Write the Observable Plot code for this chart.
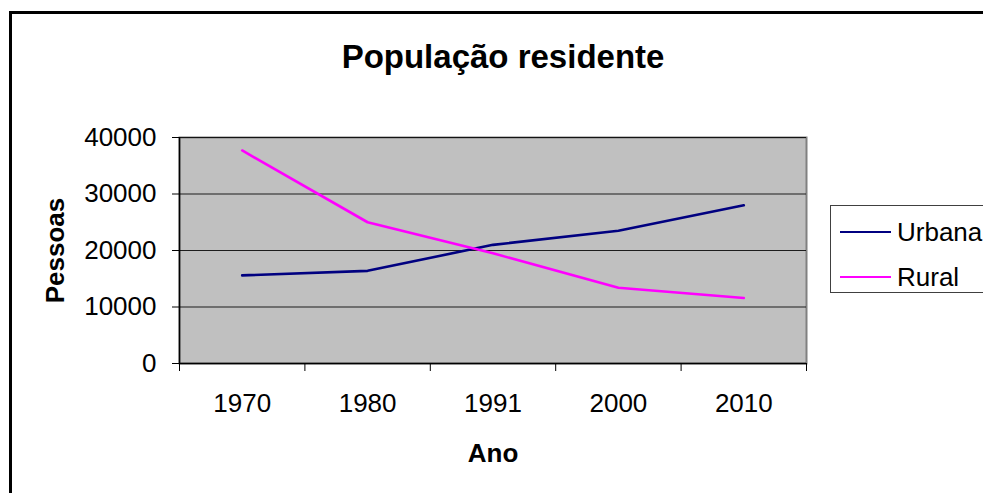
<!DOCTYPE html>
<html>
<head>
<meta charset="utf-8">
<script src="https://cdn.jsdelivr.net/npm/d3@7"></script>
<script src="https://cdn.jsdelivr.net/npm/@observablehq/plot@0.6"></script>
<style>
  html, body { margin: 0; padding: 0; background: #fff; overflow: hidden; }
  #wrap { position: relative; width: 983px; height: 493px; overflow: hidden; font-family: "Liberation Sans", Arial, sans-serif; }
  #outer { position: absolute; left: 9px; top: 11px; width: 1100px; height: 600px; border: 3px solid #000; box-sizing: border-box; }
  #chart { position: absolute; left: 0; top: 0; }
  #legend { position: absolute; left: 830px; top: 205px; width: 200px; height: 88px; border: 1.5px solid #404040; box-sizing: border-box; background: #fff; }
  .item { position: absolute; left: 0; height: 30px; width: 200px; }
  .swatch { position: absolute; left: 9px; width: 51px; height: 0; border-top: 2.5px solid; }
  .lab { position: absolute; left: 66px; font-size: 26px; line-height: 30px; color: #000; }
</style>
</head>
<body>
<div id="wrap">
  <div id="outer"></div>
  <div id="chart"></div>
  <div id="legend"></div>
</div>
<script>
const title = "População residente";
const xTitle = "Ano";
const yTitle = "Pessoas";
const years = ["1970", "1980", "1991", "2000", "2010"];
const seriesNames = ["Urbana", "Rural"];
const seriesColors = ["#000080", "#ff00ff"];
const urbana = [15600, 16400, 21000, 23500, 28000];
const rural = [37700, 25000, 19500, 13400, 11600];
const yTicks = [0, 10000, 20000, 30000, 40000];

const rows = [];
[urbana, rural].forEach((vals, s) => {
  vals.forEach((v, i) => rows.push({series: seriesNames[s], i, value: v}));
});
const idx = years.map((_, i) => i);
const bounds = [-0.5, ...idx.map(i => i + 0.5)];

const chart = Plot.plot({
  width: 983,
  height: 493,
  marginLeft: 179,
  marginRight: 177,
  marginTop: 137,
  marginBottom: 130,
  style: {fontFamily: "'Liberation Sans', Arial, sans-serif", fontSize: "26px", color: "#000", background: "transparent"},
  x: {type: "linear", domain: [-0.5, years.length - 0.5], axis: null},
  y: {domain: [0, 40000], axis: null},
  color: {domain: seriesNames, range: seriesColors},
  marks: [
    Plot.frame({fill: "#c0c0c0", stroke: "#808080", strokeWidth: 2}),
    Plot.ruleY(yTicks, {stroke: "#000", strokeWidth: 1.2, strokeOpacity: 0.85}),
    Plot.ruleX([bounds[0]], {stroke: "#000", strokeWidth: 1.5}),
    Plot.ruleY([0], {stroke: "#000", strokeWidth: 1.5}),
    Plot.axisY(yTicks, {tickSize: 7, tickPadding: 16, fontSize: 26, tickFormat: d => String(d), label: null, stroke: "#000"}),
    Plot.axisX(bounds, {tickSize: 8, tickFormat: () => "", label: null, stroke: "#000"}),
    Plot.axisX(idx, {tickSize: 0, tickPadding: 30, fontSize: 26, tickFormat: i => years[i], label: null}),
    Plot.line(rows, {x: "i", y: "value", z: "series", stroke: "series", strokeWidth: 2.6, curve: "linear"}),
    Plot.text([title], {frameAnchor: "top", dx: 10, dy: -80, fontSize: 33, fontWeight: "bold", lineAnchor: "middle", fill: "#000"}),
    Plot.text([xTitle], {frameAnchor: "bottom", dy: 90, fontSize: 26, fontWeight: "bold", lineAnchor: "middle", fill: "#000"}),
    Plot.text([yTitle], {frameAnchor: "left", dx: -124, rotate: -90, fontSize: 26, fontWeight: "bold", lineAnchor: "middle", textAnchor: "middle", fill: "#000"})
  ]
});
document.getElementById("chart").appendChild(chart);

const legend = document.getElementById("legend");
const itemTops = [11, 56];
seriesNames.forEach((name, k) => {
  const item = document.createElement("div");
  item.className = "item";
  item.style.top = itemTops[k] + "px";
  const sw = document.createElement("div");
  sw.className = "swatch";
  sw.style.top = "14px";
  sw.style.borderTopColor = seriesColors[k];
  const lab = document.createElement("div");
  lab.className = "lab";
  lab.style.top = "0px";
  lab.textContent = name;
  item.appendChild(sw);
  item.appendChild(lab);
  legend.appendChild(item);
});
</script>
</body>
</html>
